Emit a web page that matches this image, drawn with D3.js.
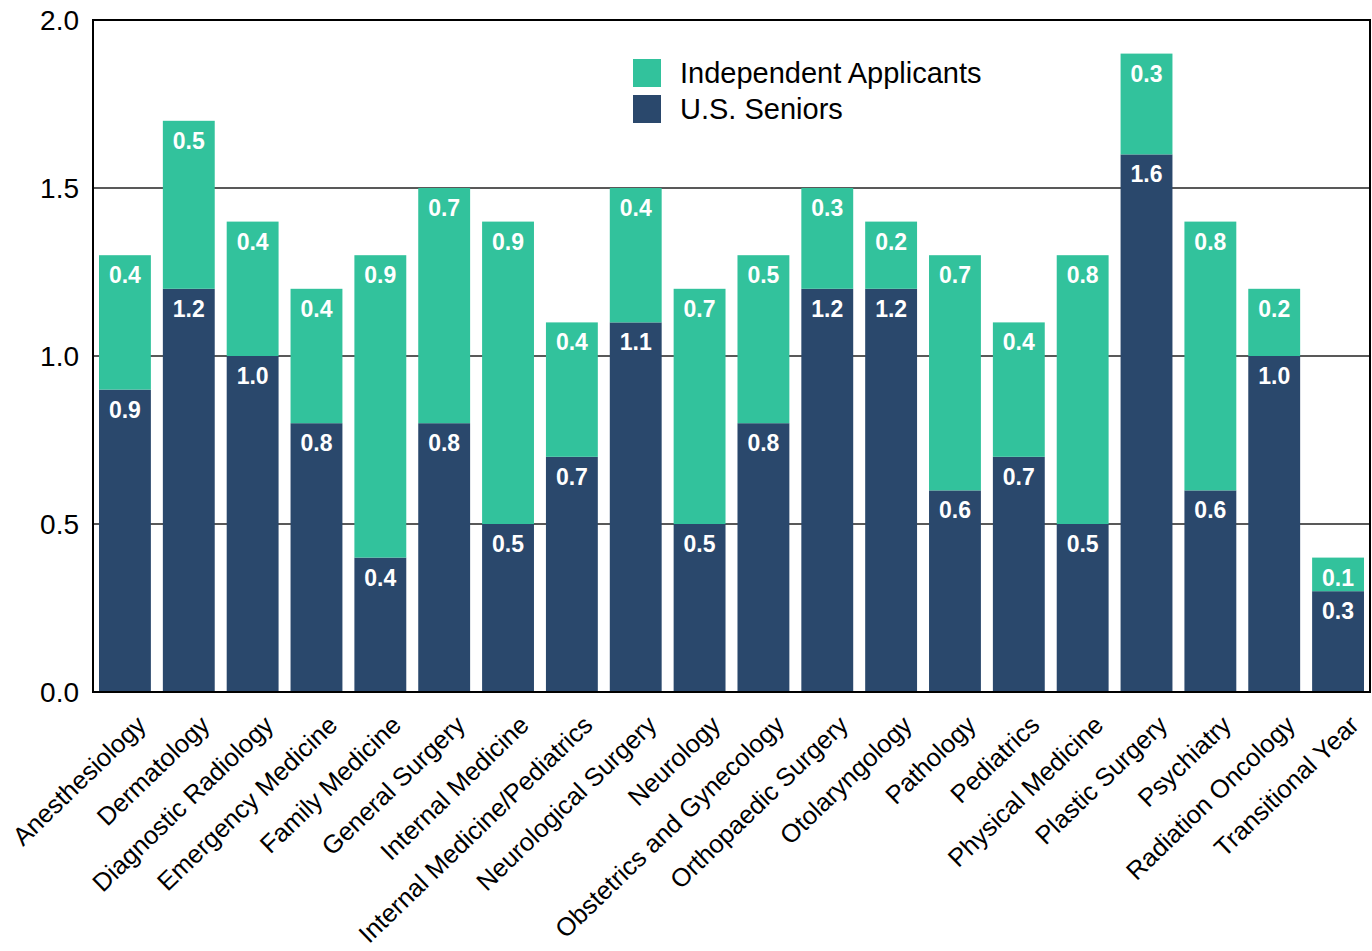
<!DOCTYPE html>
<html><head><meta charset="utf-8">
<script src="https://cdn.jsdelivr.net/npm/d3@7"></script>
<style>body{margin:0;background:#fff;} svg{display:block;font-family:"Liberation Sans",Arial,sans-serif;}</style>
</head><body><svg id="c" width="1372" height="951"></svg>
<script>
const categories = ["Anesthesiology","Dermatology","Diagnostic Radiology","Emergency Medicine","Family Medicine","General Surgery","Internal Medicine","Internal Medicine/Pediatrics","Neurological Surgery","Neurology","Obstetrics and Gynecology","Orthopaedic Surgery","Otolaryngology","Pathology","Pediatrics","Physical Medicine","Plastic Surgery","Psychiatry","Radiation Oncology","Transitional Year"];
const seniors = [0.9,1.2,1.0,0.8,0.4,0.8,0.5,0.7,1.1,0.5,0.8,1.2,1.2,0.6,0.7,0.5,1.6,0.6,1.0,0.3];
const independents = [0.4,0.5,0.4,0.4,0.9,0.7,0.9,0.4,0.4,0.7,0.5,0.3,0.2,0.7,0.4,0.8,0.3,0.8,0.2,0.1];
const yTicks = [0,0.5,1.0,1.5,2.0];
const seriesNames = ["Independent Applicants","U.S. Seniors"];
const colors = {"U.S. Seniors":"#2a486c","Independent Applicants":"#32c29c"};

const svg = d3.select("#c");
const L=93, R=1370, T=20, B=692;
const x = d3.scaleBand().domain(categories).range([L,R]).paddingInner(0.1875).paddingOuter(0.094);
const y = d3.scaleLinear().domain([0,2]).range([B,T]);

// grid
svg.append("g").selectAll("line").data(yTicks.filter(d=>d>0&&d<2)).join("line")
  .attr("x1",L).attr("x2",R).attr("y1",d=>y(d)).attr("y2",d=>y(d))
  .attr("stroke","#222").attr("stroke-width",1.3);

const data = categories.map((c,i)=>({c, s:seniors[i], ind:independents[i]}));
const g = svg.append("g");
g.selectAll("rect.s").data(data).join("rect").attr("class","s")
  .attr("x",d=>x(d.c)).attr("width",x.bandwidth())
  .attr("y",d=>y(d.s)).attr("height",d=>y(0)-y(d.s)).attr("fill",colors["U.S. Seniors"]);
g.selectAll("rect.i").data(data).join("rect").attr("class","i")
  .attr("x",d=>x(d.c)).attr("width",x.bandwidth())
  .attr("y",d=>y(d.s+d.ind)).attr("height",d=>y(d.s)-y(d.s+d.ind)).attr("fill",colors["Independent Applicants"]);

// value labels
const lab = svg.append("g").attr("font-size",23).attr("font-weight","bold").attr("fill","#fff").attr("text-anchor","middle");
lab.selectAll("text.s").data(data).join("text")
  .attr("x",d=>x(d.c)+x.bandwidth()/2).attr("y",d=>y(d.s)+28).text(d=>d.s.toFixed(1));
lab.selectAll("text.i").data(data).join("text")
  .attr("x",d=>x(d.c)+x.bandwidth()/2).attr("y",d=>y(d.s+d.ind)+28).text(d=>d.ind.toFixed(1));

// frame
svg.append("rect").attr("x",L).attr("y",T).attr("width",R-L).attr("height",B-T)
  .attr("fill","none").attr("stroke","#000").attr("stroke-width",2);

// y axis labels
svg.append("g").selectAll("text").data(yTicks).join("text")
  .attr("x",L-14).attr("y",d=>y(d)).attr("dy","0.36em").attr("text-anchor","end")
  .attr("font-size",28).attr("fill","#000").text(d=>d.toFixed(1));

// x labels
svg.append("g").selectAll("text").data(categories).join("text")
  .attr("transform",d=>`translate(${x(d)+x.bandwidth()/2+10},${B+22}) rotate(-44)`)
  .attr("text-anchor","end").attr("dy","0.7em").attr("font-size",25.5).attr("fill","#000").text(d=>d);

// legend
const lg = svg.append("g").attr("transform","translate(633,59)");
seriesNames.forEach((n,i)=>{
  lg.append("rect").attr("x",0).attr("y",i*36).attr("width",28).attr("height",28).attr("fill",colors[n]);
  lg.append("text").attr("x",47).attr("y",i*36+14).attr("dy","0.36em").attr("font-size",29).attr("fill","#000").text(n);
});
</script></body></html>
